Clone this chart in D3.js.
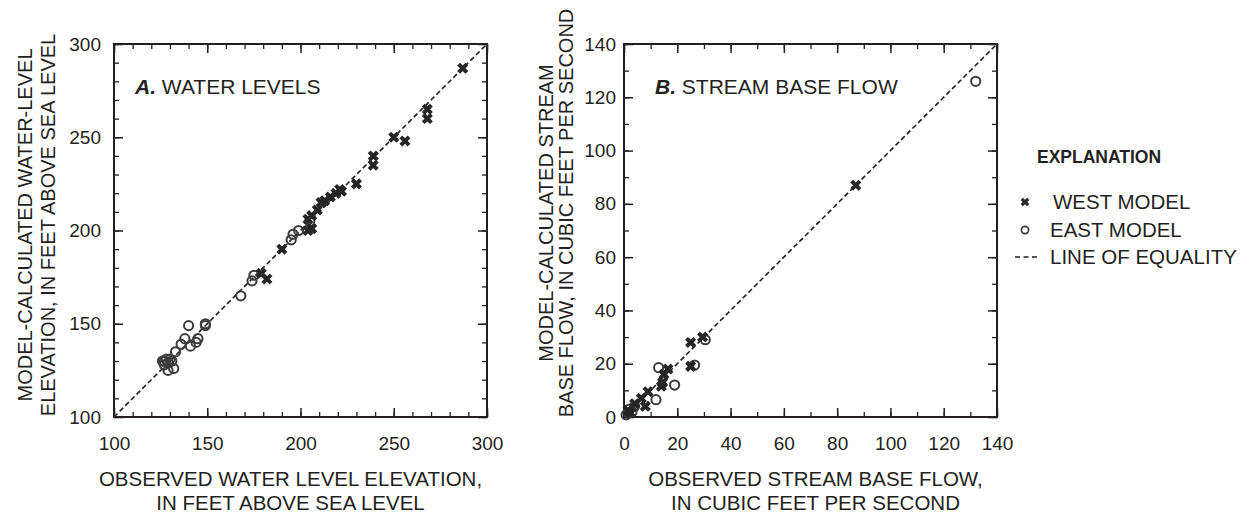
<!DOCTYPE html>
<html>
<head>
<meta charset="utf-8">
<script src="https://cdn.jsdelivr.net/npm/d3@7"></script>
<style>
  body { margin: 0; background: #fff; }
  svg { font-family: "Liberation Sans", Arial, sans-serif; fill: #231f20; }
</style>
</head>
<body>
<svg id="chart" width="1250" height="515"></svg>
<script>
// panel A: water levels (observed, model-calculated), feet above sea level
const westA = [[287,287],[268,265],[268,260],[250,250],[256,248],[239,240],[239,235],[230,225],
  [221,222],[219,220],[222,221],[216,218],[213,216],[211,215],[209,211],[206,208],[204,206],
  [204,200],[206,201],[190,190],[182,174],[179,177]];
const eastA = [[199,200],[196,198],[195,195],[205,205],[175,176],[174,173],[168,165],[149,150],
  [149,149],[145,142],[144,140],[141,138],[140,149],[138,142],[136,139],[133,135],[132,126],
  [129,125],[127,130],[128,131],[129,129],[130,131],[126,130],[127,128],[131,130]];

// panel B: stream base flow (observed, model-calculated), cubic feet per second
const westB = [[87,87],[25,28],[29.5,30],[25,19],[16.5,18],[15,16],[14.5,13],[14,11.5],
  [9,9.5],[6.5,7],[8,4],[4,5],[2.5,1.5],[1.5,2.5]];
const eastB = [[132,126],[13,18.5],[26.5,19.5],[30.5,29],[19,12],[12,6.5],[4,4],[1.5,1.5],
  [2,3],[0.8,0.8],[3,2]];

const ticksA = [100, 150, 200, 250, 300];
const minorA = d3.range(100, 301, 10);
const ticksB = [0, 20, 40, 60, 80, 100, 120, 140];
const minorB = d3.range(0, 141, 10);

const ink = "#231f20";
const svg = d3.select("#chart");

function crossPath(s) {
    return "M" + (-s) + "," + (-s) + "L" + s + "," + s + "M" + (-s) + "," + s + "L" + s + "," + (-s);
}

function drawPanel(opt) {
    const g = svg.append("g");
    const x = d3.scaleLinear().domain(opt.domain).range([opt.left, opt.right]);
    const y = d3.scaleLinear().domain(opt.domain).range([opt.bottom, opt.top]);

    // minor and major ticks on all four sides, pointing inward
    const sides = [
        [d3.axisBottom(x), "translate(0," + opt.bottom + ")", true, opt.padX],
        [d3.axisTop(x), "translate(0," + opt.top + ")", false, 0],
        [d3.axisLeft(y), "translate(" + opt.left + ",0)", true, opt.padY],
        [d3.axisRight(y), "translate(" + opt.right + ",0)", false, 0]
    ];
    sides.forEach(([make, tr, labels, pad]) => {
        g.append("g").attr("transform", tr)
            .call(make.tickValues(opt.minor).tickSize(-5).tickFormat(""))
            .call(a => a.select(".domain").remove())
            .selectAll("line").attr("stroke", ink).attr("stroke-width", 1.3);
    });
    sides.forEach(([make, tr, labels, pad]) => {
        const ax = g.append("g").attr("transform", tr)
            .call(make.tickValues(opt.ticks).tickSize(-9).tickPadding(pad)
                .tickFormat(labels ? d3.format("d") : ""))
            .call(a => a.select(".domain").remove());
        ax.selectAll("line").attr("stroke", ink).attr("stroke-width", 1.5);
        ax.selectAll("text").attr("font-size", 19).attr("fill", ink)
            .attr("font-family", "Liberation Sans, Arial, sans-serif");
    });

    g.append("rect")
        .attr("x", opt.left).attr("y", opt.top)
        .attr("width", opt.right - opt.left).attr("height", opt.bottom - opt.top)
        .attr("fill", "none").attr("stroke", ink).attr("stroke-width", 2);

    // line of equality
    g.append("line")
        .attr("x1", x(opt.domain[0])).attr("y1", y(opt.domain[0]))
        .attr("x2", x(opt.domain[1])).attr("y2", y(opt.domain[1]))
        .attr("stroke", ink).attr("stroke-width", 1.6).attr("stroke-dasharray", "5,3");

    g.selectAll("circle.east").data(opt.east).enter().append("circle")
        .attr("cx", d => x(d[0])).attr("cy", d => y(d[1])).attr("r", 4.6)
        .attr("fill", "none").attr("stroke", "#3c3c3c").attr("stroke-width", 2);

    g.selectAll("path.west").data(opt.west).enter().append("path")
        .attr("transform", d => "translate(" + x(d[0]) + "," + y(d[1]) + ")")
        .attr("d", crossPath(4.1))
        .attr("stroke", "#262626").attr("stroke-width", 4).attr("fill", "none");

    // panel title
    const t = g.append("text").attr("x", opt.left + opt.titleDx).attr("y", opt.top + 50)
        .attr("font-size", 21);
    t.append("tspan").attr("font-weight", "bold").attr("font-style", "italic").text(opt.letter);
    t.append("tspan").text(" " + opt.title);

    // x title
    const cx = (opt.left + opt.right) / 2 + opt.xTitleDx;
    opt.xTitle.forEach((s, i) => {
        g.append("text").attr("x", cx).attr("y", 486 + i * 24)
            .attr("text-anchor", "middle").attr("font-size", 20.5).text(s);
    });
    // y title
    opt.yTitle.forEach((s, i) => {
        g.append("text")
            .attr("transform", "translate(" + opt.yTitleX[i] + "," + opt.yTitleY + ") rotate(-90)")
            .attr("text-anchor", "middle").attr("font-size", 20).text(s);
    });
}

drawPanel({
    domain: [100, 300], ticks: ticksA, minor: minorA,
    left: 114, right: 487, top: 44, bottom: 417, padX: 20, padY: 13,
    west: westA, east: eastA,
    letter: "A.", title: "WATER LEVELS", titleDx: 21,
    xTitle: ["OBSERVED WATER LEVEL ELEVATION,", "IN FEET ABOVE SEA LEVEL"], xTitleDx: -10,
    yTitle: ["MODEL-CALCULATED WATER-LEVEL", "ELEVATION, IN FEET ABOVE SEA LEVEL"],
    yTitleX: [32, 55], yTitleY: 225
});

drawPanel({
    domain: [0, 140], ticks: ticksB, minor: minorB,
    left: 624, right: 997, top: 44, bottom: 417, padX: 20, padY: 8,
    west: westB, east: eastB,
    letter: "B.", title: "STREAM BASE FLOW", titleDx: 31,
    xTitle: ["OBSERVED STREAM BASE FLOW,", "IN CUBIC FEET PER SECOND"], xTitleDx: 5,
    yTitle: ["MODEL-CALCULATED STREAM", "BASE FLOW, IN CUBIC FEET PER SECOND"],
    yTitleX: [553, 573], yTitleY: 213
});

// explanation
const legend = svg.append("g");
legend.append("text").attr("x", 1037).attr("y", 163)
    .attr("font-size", 17.5).attr("font-weight", "bold").text("EXPLANATION");
legend.append("path").attr("transform", "translate(1025,202)").attr("d", crossPath(3.2))
    .attr("stroke", "#262626").attr("stroke-width", 3.2).attr("fill", "none");
legend.append("circle").attr("cx", 1025).attr("cy", 230).attr("r", 3.6)
    .attr("fill", "none").attr("stroke", "#3c3c3c").attr("stroke-width", 1.7);
legend.append("line").attr("x1", 1015).attr("x2", 1039).attr("y1", 257).attr("y2", 257)
    .attr("stroke", ink).attr("stroke-width", 1.5).attr("stroke-dasharray", "5,3.5");
[["WEST MODEL", 1053, 209], ["EAST MODEL", 1050, 237], ["LINE OF EQUALITY", 1050, 264]]
    .forEach(([s, lx, ly]) => {
        legend.append("text").attr("x", lx).attr("y", ly).attr("font-size", 20.5).text(s);
    });
</script>
</body>
</html>
